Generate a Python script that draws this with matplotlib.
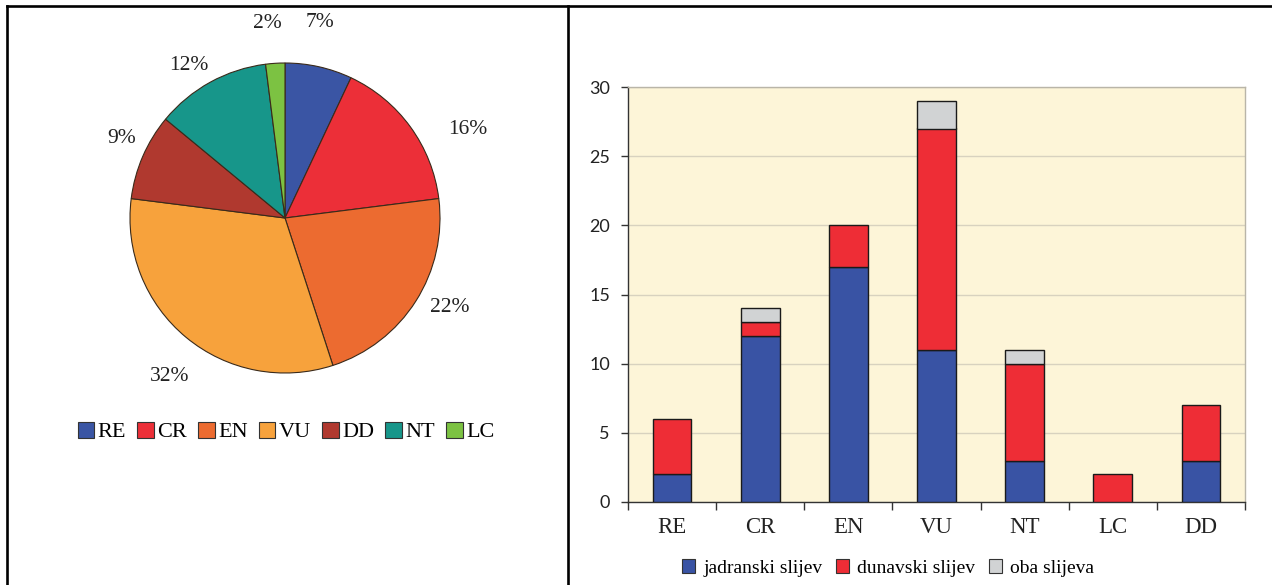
import matplotlib
matplotlib.use("Agg")
import matplotlib.pyplot as plt
import numpy as np
from matplotlib.lines import Line2D
from matplotlib.patches import Patch

# podaci - pita
pie_labels = ['RE', 'CR', 'EN', 'VU', 'DD', 'NT', 'LC']
pie_values = [7, 16, 22, 32, 9, 12, 2]
pie_colors = ['#3a55a4', '#ec2f38', '#ec6b30', '#f7a23c', '#b0392f', '#17968a', '#7cc242']

# podaci - stupci
categories = ['RE', 'CR', 'EN', 'VU', 'NT', 'LC', 'DD']
jadranski = [2, 12, 17, 11, 3, 0, 3]
dunavski = [4, 1, 3, 16, 7, 2, 4]
oba = [0, 1, 0, 2, 1, 0, 0]
series_names = ['jadranski slijev', 'dunavski slijev', 'oba slijeva']
bar_colors = ['#3953a4', '#ee2d36', '#d1d3d4']

serif = 'Liberation Serif'
sans = 'Lato'

W, H = 1272, 585
fig = plt.figure(figsize=(W / 100, H / 100), dpi=100)

# okvir tablice
def fline(x0, y0, x1, y1):
    fig.add_artist(Line2D([x0 / W, x1 / W], [1 - y0 / H, 1 - y1 / H],
                          transform=fig.transFigure, color='black', lw=1.9))

fline(7, 6, 1272, 6)
fline(7, 6, 7, 585)
fline(568, 6, 568, 585)

# pita
cx, cy, r = 285, 218, 155
axp = fig.add_axes([(cx - r) / W, 1 - (cy + r) / H, 2 * r / W, 2 * r / H])
wedges, texts = axp.pie(pie_values, colors=pie_colors, startangle=90, counterclock=False,
                        labels=[f'{v}%' for v in pie_values], labeldistance=1.24,
                        wedgeprops=dict(edgecolor='#3a2a1a', linewidth=0.8))

# polozaj oznaka (udaljenost od sredista, pomak kuta) - kao u izvorniku
lab_dist = [1.30, 1.32, 1.20, 1.25, 1.18, 1.18, 1.28]
lab_shift = [2.5, -9.5, 4.5, 3.0, -3.5, 3.0, 1.5]
for w, t, d, s in zip(wedges, texts, lab_dist, lab_shift):
    ang = np.deg2rad((w.theta1 + w.theta2) / 2 + s)
    t.set_position((d * np.cos(ang), d * np.sin(ang) - 0.018))
    t.set_fontfamily(serif)
    t.set_fontsize(15.5)
    t.set_color('#222222')
    t.set_ha('center')
    t.set_va('center')
axp.set_xlim(-1, 1)
axp.set_ylim(-1, 1)

pie_handles = [Patch(facecolor=c, edgecolor='#333333', linewidth=0.8) for c in pie_colors]
fig.legend(pie_handles, pie_labels, loc='center', bbox_to_anchor=(286 / W, 1 - 432 / H),
           ncol=7, frameon=False, handlelength=0.75, handleheight=0.75, handletextpad=0.15,
           columnspacing=0.5, prop={'family': serif, 'size': 16})

# stupci
axb = fig.add_axes([628 / W, 1 - 502 / H, (1245 - 628) / W, (502 - 87) / H])
axb.set_facecolor('#fdf5d8')
x = np.arange(len(categories))
wid = 0.44
jad = np.array(jadranski)
dun = np.array(dunavski)
ob = np.array(oba)
kw = dict(width=wid, edgecolor='#1a1a1a', linewidth=1.0, zorder=3)
axb.bar(x, jad, color=bar_colors[0], **kw)
axb.bar(x[dun > 0], dun[dun > 0], bottom=jad[dun > 0], color=bar_colors[1], **kw)
axb.bar(x[ob > 0], ob[ob > 0], bottom=(jad + dun)[ob > 0], color=bar_colors[2], **kw)

axb.set_xlim(-0.5, len(categories) - 0.5)
axb.set_ylim(0, 30)
axb.set_yticks(range(0, 31, 5))
axb.yaxis.grid(True, color='#d8d2bf', linewidth=1.0, zorder=0)
axb.set_axisbelow(True)
axb.set_xticks(x)
axb.set_xticklabels(categories, fontfamily=serif, fontsize=16.5, color='#222222')
axb.tick_params(axis='x', length=0, pad=11)
axb.set_xticks(np.arange(-0.5, len(categories), 1), minor=True)
axb.tick_params(axis='x', which='minor', length=6, width=1, color='#333333')
axb.tick_params(axis='y', length=5, width=1, color='#333333', pad=8, labelsize=13)
for lab in axb.get_yticklabels():
    lab.set_fontfamily(sans)
    lab.set_color('#222222')
axb.spines['left'].set_color('#333333')
axb.spines['bottom'].set_color('#333333')
axb.spines['top'].set_color('#b9b5a8')
axb.spines['right'].set_color('#b9b5a8')
for s in axb.spines.values():
    s.set_linewidth(1.0)

bar_handles = [Patch(facecolor=c, edgecolor='#333333', linewidth=0.8) for c in bar_colors]
fig.legend(bar_handles, series_names, loc='center', bbox_to_anchor=(888 / W, 1 - 568 / H),
           ncol=3, frameon=False, handlelength=0.7, handleheight=0.75, handletextpad=0.4,
           columnspacing=0.7, prop={'family': serif, 'size': 14})

fig.savefig('out.png', dpi=100, facecolor='white')
